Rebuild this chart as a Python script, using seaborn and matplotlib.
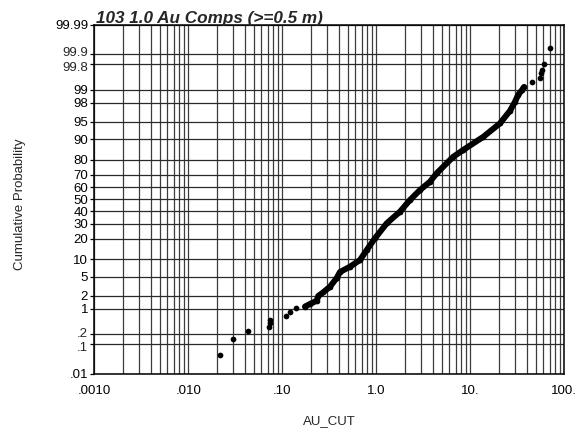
import numpy as np
import matplotlib
matplotlib.use('Agg')
import matplotlib.pyplot as plt
import seaborn as sns
from matplotlib.ticker import FixedLocator, FixedFormatter, LogLocator, NullFormatter
from statistics import NormalDist

sns.set_style('white')
plt.rcParams['font.family'] = ['Liberation Sans', 'DejaVu Sans']

# Values (AU_CUT grade, cumulative probability in %)
tail_lo_au = [0.0215, 0.0299, 0.0427, 0.0722, 0.0731, 0.0740, 0.1095, 0.1208, 0.1398]
tail_lo_prob = [0.046, 0.142, 0.245, 0.33, 0.41, 0.51, 0.64, 0.82, 1.01]

body_au = [0.1744, 0.197, 0.2323, 0.2415, 0.271, 0.3217, 0.379, 0.411, 0.525, 0.671,
           0.791, 0.968, 1.29, 1.787, 2.283, 2.917, 3.727, 4.39, 6.59, 8.42,
           13.75, 20.7, 26.4, 29.9, 32.2, 35.5, 37.3]
body_prob = [1.12, 1.29, 1.54, 1.98, 2.36, 3.14, 4.69, 6.08, 7.56, 9.8,
             14.0, 20.3, 30.4, 39.6, 49.4, 57.8, 64.6, 71.0, 81.7, 85.3,
             90.8, 94.7, 97.0, 98.1, 98.67, 99.0, 99.16]

tail_hi_au = [45.0, 55.1, 56.5, 58.3, 60.4, 69.6]
tail_hi_prob = [99.36, 99.50, 99.63, 99.70, 99.80, 99.936]

prob_ticks = [0.01, 0.1, 0.2, 1, 2, 5, 10, 20, 30, 40, 50, 60, 70, 80, 90,
              95, 98, 99, 99.8, 99.9, 99.99]
prob_labels = ['.01', '.1', '.2', '1', '2', '5', '10', '20', '30', '40', '50',
               '60', '70', '80', '90', '95', '98', '99', '99.8', '99.9', '99.99']
au_ticks = [0.001, 0.01, 0.1, 1, 10, 100]
au_labels = ['.0010', '.010', '.10', '1.0', '10.', '100.']

_nd = NormalDist()


def to_z(p):
    '''Probability (%) to normal score.'''
    p = np.clip(np.asarray(p, dtype=float) / 100.0, 1e-12, 1 - 1e-12)
    return np.vectorize(_nd.inv_cdf, otypes=[float])(p)


def to_p(z):
    '''Normal score to probability (%).'''
    z = np.asarray(z, dtype=float)
    return np.vectorize(_nd.cdf, otypes=[float])(z) * 100.0


fig = plt.figure(figsize=(5.87, 4.32), dpi=100)
ax = fig.add_axes([94.3 / 587, 1 - 374 / 432, 470 / 587, 349.5 / 432])
ax.set_xscale('log')
ax.set_yscale('function', functions=(to_z, to_p))

sns.lineplot(x=body_au, y=body_prob, ax=ax, sort=False, estimator=None,
             color='black', linewidth=4.3, solid_capstyle='round', zorder=3)
sns.scatterplot(x=tail_lo_au + body_au + tail_hi_au,
                y=tail_lo_prob + body_prob + tail_hi_prob,
                ax=ax, color='black', s=17, linewidth=0, zorder=4)

ax.set_xlim(0.001, 100)
ax.set_ylim(0.01, 99.99)

# crowded pairs of labels get drawn by hand, pushed slightly apart
nudge = {'.1': -1.6, '.2': 1.6, '99.8': -1.6, '99.9': 1.6}
shown = [lab if lab not in nudge else '' for lab in prob_labels]

ax.xaxis.set_major_locator(FixedLocator(au_ticks))
ax.xaxis.set_major_formatter(FixedFormatter(au_labels))
ax.xaxis.set_minor_locator(LogLocator(base=10, subs=np.arange(2, 10), numticks=20))
ax.xaxis.set_minor_formatter(NullFormatter())
ax.yaxis.set_major_locator(FixedLocator(prob_ticks))
ax.yaxis.set_major_formatter(FixedFormatter(shown))
ax.yaxis.set_minor_locator(FixedLocator([]))

for tick, lab in zip(prob_ticks, prob_labels):
    if lab in nudge:
        ax.annotate(lab, xy=(0, tick), xycoords=ax.get_yaxis_transform(),
                    xytext=(-4.5, nudge[lab]), textcoords='offset points',
                    ha='right', va='center_baseline', fontsize=9.5)

ax.grid(True, axis='x', which='both', color='#3c3c3c', linewidth=0.9)
ax.grid(True, axis='y', which='major', color='#2a2a2a', linewidth=0.9)
ax.set_axisbelow(True)

ax.tick_params(axis='x', which='both', length=0, pad=8, labelsize=9.5, colors='black')
ax.tick_params(axis='y', which='major', length=3, width=0.9, direction='out',
               left=True, pad=1.5, labelsize=9.5, colors='black')
for sp in ax.spines.values():
    sp.set_color('black')
    sp.set_linewidth(1.1)

ax.set_xlabel('')
ax.set_ylabel('')
fig.text(96 / 587, 1 - 23.5 / 432, '103 1.0 Au Comps (>=0.5 m)', ha='left',
         va='baseline', fontsize=12.3, fontweight='bold', fontstyle='italic')
fig.text(20 / 587, 1 - 204 / 432, 'Cumulative Probability', rotation=90,
         ha='center', va='center', fontsize=9.5)
fig.text(329 / 587, 1 - 421 / 432, 'AU_CUT', ha='center', va='center', fontsize=9.5)

fig.savefig('out.png', dpi=100, facecolor='white')
